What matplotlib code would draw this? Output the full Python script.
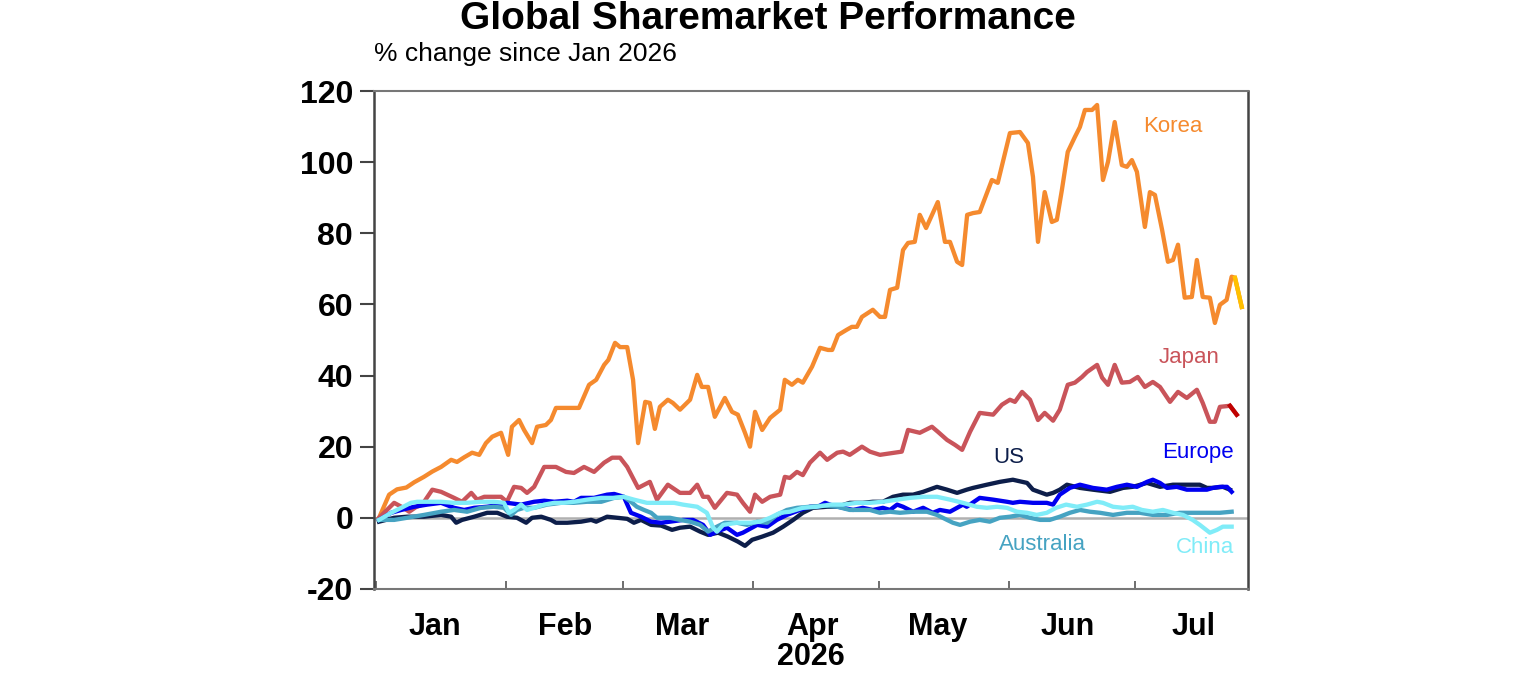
import pandas as pd
import matplotlib.pyplot as plt
import matplotlib.dates as mdates

# ===============================
# Data: % change since Jan 2026
# x = days after 1 Jan 2026
# ===============================
korea_days = [0.7, 3.1, 5.0, 7.2, 9.1, 11.4, 13.4, 15.5, 17.9, 19.3, 21.0, 22.9, 24.6, 26.2, 27.7,
              29.8, 31.5, 32.4, 34.1, 35.3, 37.2, 38.4, 40.5, 41.7, 42.9, 48.4, 50.8, 52.5, 54.4, 55.4,
              57.0, 58.2, 59.9, 61.3, 62.5, 64.2, 65.3, 66.5, 67.7, 69.6, 70.8, 72.5, 74.9, 76.6, 77.7,
              79.2, 80.8, 83.2, 84.9, 86.3, 88.0, 89.2, 90.4, 92.1, 94.0, 96.4, 97.5, 99.2, 100.6, 101.8,
              104.0, 105.9, 107.8, 108.8, 110.2, 112.3, 113.5, 114.7, 115.9, 118.5, 120.2, 121.4, 122.6,
              124.3, 125.7, 126.9, 128.5, 129.7, 131.2, 134.0, 135.7, 136.9, 138.6, 139.8, 141.0, 142.4,
              144.0, 146.9, 148.3, 151.2, 153.6, 155.5, 156.7, 157.9, 159.5, 161.2, 162.4, 163.6, 165.0,
              166.7, 167.9, 169.1, 170.8, 172.0, 173.4, 174.6, 176.2, 177.9, 179.1, 180.3, 181.5, 183.4,
              184.6, 185.8, 187.5, 188.9, 190.1, 191.3, 192.9, 194.6, 195.8, 197.2, 198.9, 200.1, 201.3,
              202.9, 204.1, 204.9, 206.5]
korea_vals = [0, 6.5, 8, 8.5, 10, 11.5, 13, 14.3, 16.3, 15.7, 17, 18.3, 17.7, 21, 22.8,
              23.9, 17.7, 25.6, 27.5, 24.7, 21, 25.6, 26.1, 27.5, 30.9, 30.9, 37.4, 38.8, 43, 44.4,
              49.2, 48, 48, 38.8, 21, 32.6, 32.3, 25, 31.2, 33.2, 32.3, 30.4, 33.2, 40.2, 36.8,
              36.8, 28.4, 33.7, 29.8, 29, 23.9, 20, 29.8, 24.7, 28.1, 30.4, 38.8, 37.4, 38.8, 38,
              42.5, 47.8, 47.2, 47.2, 51.4, 52.9, 53.7, 53.7, 56.5, 58.5, 56.5, 56.5, 64.1,
              64.7, 75.3, 77.3, 77.6, 85.2, 81.5, 88.8, 77.6, 77.6, 72, 71.1, 85.2, 85.7,
              86, 95, 94.2, 108.2, 108.5, 105.4, 95.9, 77.6, 91.6, 83.2, 83.8, 92.2, 102.9,
              107.1, 109.9, 114.7, 114.7, 116.1, 95, 100.1, 111.3, 99.2, 98.7, 100.6, 97.3, 81.8,
              91.6, 90.8, 81, 72, 72.5, 76.8, 61.9, 62.1, 72.5, 62.1, 61.9, 54.8, 59.9,
              61.3, 67.8, 67.5, 59.3]

japan_days = [0.7, 4.3, 6.2, 7.9, 9.5, 11.0, 13.4, 15.5, 18.6, 20.5, 22.7, 24.1, 25.8, 29.8, 31.2,
              32.9, 34.6, 36.0, 37.7, 40.1, 42.9, 45.3, 47.2, 49.6, 52.0, 54.4, 56.3, 58.2, 59.9, 62.5,
              65.3, 67.0, 69.6, 72.5, 74.9, 76.6, 78.0, 79.2, 80.8, 83.7, 86.1, 87.5, 89.2, 90.4, 92.1,
              94.0, 96.4, 97.5, 98.7, 100.4, 101.8, 103.5, 105.9, 107.6, 110.0, 111.4, 113.0, 115.9,
              117.8, 120.2, 125.4, 126.9, 129.7, 132.6, 134.0, 136.2, 138.1, 139.8, 141.7, 144.0, 147.2,
              149.3, 151.2, 152.4, 154.1, 156.0, 157.9, 159.5, 161.5, 163.1, 165.0, 166.7, 168.4, 169.6,
              172.0, 173.2, 174.6, 176.2, 177.9, 179.8, 181.7, 183.4, 185.3, 187.0, 189.4, 191.3, 193.4,
              195.8, 197.2, 198.9, 200.1, 201.3, 203.7, 205.3]
japan_vals = [0, 4.2, 3, 1.7, 3, 3.7, 7.9, 7.3, 5.6, 4.5, 7, 5.1, 5.9, 5.9, 4.5,
              8.7, 8.4, 7, 8.7, 14.3, 14.3, 12.9, 12.6, 14.3, 12.9, 15.5, 16.9, 16.9, 14.3, 8.4,
              10.1, 5.1, 9.3, 7, 7, 9.3, 5.9, 5.9, 2.8, 7, 6.5, 4.2, 1.7, 6.5, 4.5,
              5.9, 6.5, 11.5, 11.2, 12.9, 12, 15.5, 18.3, 16.3, 18.3, 18.6, 17.7, 20,
              18.6, 17.7, 18.6, 24.7, 23.9, 25.6, 24.2, 21.9, 20.5, 19.1, 24.2, 29.5, 29,
              31.8, 33.2, 32.6, 35.4, 33.2, 27.5, 29.5, 27.3, 30.4, 37.4, 38, 39.6, 41,
              43, 39.4, 37.4, 43, 38, 38.2, 39.6, 36.8, 38.2, 36.8, 32.6, 35.4, 33.7,
              36, 32.3, 27, 27, 31.2, 31.5, 29]

us_days = [0.7, 4.3, 7.4, 11.4, 15.5, 17.9, 19.1, 20.5, 23.4, 26.5, 28.9, 31.2, 33.6, 35.8, 37.2,
           39.4, 41.7, 42.9, 45.6, 48.9, 51.3, 52.5, 55.1, 57.5, 59.9, 61.5, 63.2, 65.6, 68.0, 70.6,
           72.5, 74.9, 77.3, 79.2, 81.6, 83.9, 86.3, 88.0, 89.7, 92.1, 94.7, 97.1, 99.5, 101.8, 104.2,
           107.6, 110.0, 113.0, 116.1, 118.5, 120.9, 123.3, 125.7, 128.1, 130.5, 133.8, 136.2, 138.6,
           140.9, 142.4, 145.7, 148.8, 151.9, 155.3, 156.7, 160.0, 161.5, 163.1, 164.8, 167.9, 171.0,
           175.1, 178.2, 180.5, 183.9, 187.0, 190.1, 193.4, 196.5, 198.2, 199.6, 202.0, 203.7]
us_vals = [-1.1, 0, 0.3, 0.3, 0.8, 0.3, -1.4, -0.6, 0.3, 1.4, 1.4, 0.3, 0, -1.4, 0,
           0.3, -0.6, -1.4, -1.4, -1.1, -0.6, -1.1, 0.3, 0, -0.3, -1.4, -0.6, -2, -2.2, -3.4,
           -2.8, -2.5, -3.9, -4.8, -4.2, -5.3, -6.7, -7.9, -6.2, -5.3, -4.2, -2.5, -0.6, 1.4, 2.8,
           3.1, 3.1, 4.2, 4.2, 4.5, 4.5, 5.9, 6.5, 6.5, 7.3, 8.7, 7.9, 7,
           7.9, 8.4, 9.3, 10.1, 10.7, 9.8, 7.9, 6.5, 7, 7.9, 9.3, 8.4, 7.9,
           7.3, 8.4, 8.7, 9.8, 8.7, 9.3, 9.3, 9.3, 8.4, 8.4, 8.7, 7.9]

europe_days = [0.7, 3.6, 6.0, 9.1, 12.2, 15.5, 18.6, 21.0, 23.4, 26.5, 29.8, 31.2, 34.6, 37.7, 40.1,
               42.5, 45.6, 47.2, 48.9, 52.0, 55.1, 56.8, 59.1, 60.8, 63.2, 65.6, 68.0, 70.1, 73.2, 75.6,
               78.0, 79.7, 81.3, 83.7, 86.1, 87.5, 90.9, 93.3, 95.6, 98.0, 101.1, 103.5, 105.4, 107.1,
               109.0, 111.4, 113.8, 116.1, 118.5, 120.9, 122.6, 124.3, 125.7, 128.1, 130.5, 132.8, 134.5,
               136.9, 138.6, 140.0, 140.9, 144.0, 147.2, 150.5, 151.9, 153.6, 156.7, 160.0, 161.5, 163.1,
               165.5, 167.9, 171.0, 174.3, 176.7, 179.1, 181.5, 183.9, 185.3, 187.0, 188.7, 191.0, 193.4,
               195.8, 198.2, 199.6, 201.3, 203.0, 204.1]
europe_vals = [-0.6, 1.4, 2.2, 3.1, 3.7, 4.2, 2.8, 2.2, 2.8, 3.1, 3.7, 4.2, 3.7, 4.5, 4.8,
               4.5, 4.8, 4.5, 5.6, 5.6, 6.5, 6.7, 5.9, 1.4, 0.3, -1.1, -1.4, -1.1, -0.6, -0.6,
               -2, -4.8, -3.9, -2.8, -4.8, -4.2, -2, -2.5, -0.6, 0.8, 2.2, 3.1, 3.1, 4.2,
               3.4, 2.8, 2.2, 2.8, 2.2, 2.8, 2.2, 3.7, 3.1, 1.7, 2.8, 1.4, 2.2,
               1.7, 2.8, 3.7, 3.1, 5.6, 5.1, 4.5, 4.2, 4.5, 4.2, 4.2, 3.7, 6.5,
               8.4, 9.3, 8.4, 7.9, 8.7, 9.3, 8.7, 10.1, 10.7, 9.8, 8.4, 8.7, 7.9,
               7.9, 7.9, 8.4, 8.7, 8.7, 7.3]

australia_days = [0.7, 4.3, 7.4, 11.4, 15.5, 18.6, 21.7, 25.0, 28.1, 30.5, 32.2, 33.6, 35.3, 37.7, 40.8,
                  44.1, 47.2, 50.3, 53.7, 56.8, 59.1, 60.8, 62.2, 63.9, 65.6, 67.0, 70.1, 72.5, 74.9,
                  77.3, 79.2, 80.8, 83.2, 86.1, 88.5, 90.9, 93.3, 95.6, 98.0, 100.4, 103.5, 106.6, 110.0,
                  113.0, 115.4, 117.8, 120.2, 122.6, 125.0, 128.1, 131.4, 133.8, 136.2, 137.6, 139.3,
                  141.7, 144.0, 146.4, 148.8, 151.2, 153.6, 156.0, 158.4, 160.7, 163.1, 165.5, 167.9,
                  170.3, 172.7, 175.8, 179.1, 182.2, 185.3, 188.7, 191.7, 194.8, 198.2, 201.3, 204.1]
australia_vals = [-0.6, -0.6, 0, 0.8, 1.7, 2.2, 1.7, 2.8, 3.1, 2.8, 0.8, 2.2, 2.8, 2.8, 3.7,
                  4.2, 4.2, 4.5, 4.5, 5.6, 5.9, 4.5, 3.1, 2.2, 1.4, 0, 0, -0.6, -1.1,
                  -2, -3.9, -2.8, -1.4, -1.4, -2, -1.1, -1.4, 0.8, 2.2, 2.8, 3.1, 3.4, 3.1,
                  2.2, 2.2, 2.2, 1.4, 1.7, 1.4, 1.7, 1.7, 0.8, -0.6, -1.4, -2,
                  -1.1, -0.6, -1.1, 0, 0.3, 0.8, 0, -0.6, -0.6, 0.3, 1.4, 2.2,
                  1.7, 1.4, 0.8, 1.4, 1.4, 0.8, 0.8, 1.4, 1.4, 1.4, 1.4, 1.7]

china_days = [0.7, 3.6, 6.0, 8.3, 9.8, 12.2, 15.5, 18.6, 21.7, 25.0, 28.1, 30.5, 31.7, 32.9, 34.6,
              36.0, 37.7, 40.1, 42.5, 44.8, 47.2, 50.3, 53.7, 56.8, 59.1, 61.5, 64.6, 68.0, 71.1, 73.2,
              76.6, 78.9, 80.4, 81.3, 82.8, 86.1, 89.2, 91.6, 94.0, 96.4, 98.7, 101.8, 105.2, 108.3,
              111.4, 114.7, 117.8, 120.9, 124.3, 127.4, 130.5, 133.8, 136.9, 140.0, 143.3, 145.7, 148.1,
              150.5, 152.9, 155.3, 157.6, 160.0, 162.2, 164.6, 167.2, 169.6, 172.0, 173.4, 175.8, 178.2,
              180.5, 182.7, 185.3, 187.7, 190.1, 192.5, 194.8, 196.5, 198.9, 200.6, 202.0, 204.1]
china_vals = [-0.6, 1.4, 2.8, 4.2, 4.5, 4.5, 4.5, 4.2, 4.2, 4.5, 4.5, 4.2, 1.4, 2.2, 3.7,
              2.2, 2.8, 3.7, 4.2, 4.2, 4.5, 5.1, 5.6, 5.6, 5.9, 5.1, 4.2, 4.2, 4.2, 3.7,
              3.1, 1.4, -2.8, -3.9, -2, -1.4, -1.4, -1.1, 0, 1.4, 1.7, 2.8, 3.1, 3.7,
              3.7, 4.2, 4.2, 4.5, 5.1, 5.6, 5.9, 5.9, 5.1, 4.2, 3.1, 2.8, 3.1,
              2.8, 1.7, 1.4, 0.8, 1.4, 2.8, 3.7, 3.1, 3.7, 4.5, 4.2, 3.1, 2.8,
              3.1, 2.2, 1.7, 2.2, 1.4, 0.8, -0.6, -2, -4.2, -3.4, -2.5, -2.5]

start = pd.Timestamp("2026-01-01")


def to_dates(days):
    return start + pd.to_timedelta(days, unit="D")


# name, days, values, colour, label position (day, value), latest-point colour
series = [
    ("Korea", korea_days, korea_vals, "#F58A2E", (190, 110), "#FFC000"),
    ("Japan", japan_days, japan_vals, "#C9545A", (194, 45), "#C00000"),
    ("US", us_days, us_vals, "#0D1E4A", (151, 17), None),
    ("Europe", europe_days, europe_vals, "#0000F0", (196, 18.3), None),
    ("Australia", australia_days, australia_vals, "#46A3C2", (159, -7.6), None),
    ("China", china_days, china_vals, "#80ECF8", (197.7, -8.4), None),
]

plt.rcParams["font.family"] = ["Liberation Sans", "DejaVu Sans"]
plt.rcParams["axes.unicode_minus"] = False

fig = plt.figure(figsize=(15.36, 6.8), dpi=100)
ax = fig.add_axes([0.2435, 0.134, 0.569, 0.732])

ax.axhline(0, color="#B0B0B0", lw=1.8, zorder=1)

for name, days, vals, col, (lx, ly), last_col in series:
    x = to_dates(days)
    ax.plot(x, vals, color=col, lw=3.1, solid_joinstyle="round", zorder=2)
    if last_col:
        ax.plot(x[-2:], vals[-2:], color=last_col, lw=3.1, zorder=3)
    ax.text(start + pd.Timedelta(days=lx), ly, name, color=col, fontsize=16,
            ha="center", va="center")

ax.set_ylim(-20, 120)
ax.set_yticks(range(-20, 121, 20))
ax.set_xlim(pd.Timestamp("2025-12-31 12:00"), pd.Timestamp("2026-07-28"))

# month boundaries as ticks, labels centred mid-month
ax.xaxis.set_major_locator(mdates.MonthLocator())
ax.xaxis.set_major_formatter(plt.NullFormatter())
ax.xaxis.set_minor_locator(mdates.MonthLocator(bymonthday=15))
ax.xaxis.set_minor_formatter(mdates.DateFormatter("%b"))
ax.tick_params(axis="x", which="major", direction="in", length=6, width=1.2, color="#555555")
ax.tick_params(axis="x", which="minor", length=0, pad=17, labelsize=22)
for lab in ax.get_xticklabels(minor=True):
    lab.set_fontweight("bold")
ax.tick_params(axis="y", direction="out", length=10, width=1.5, color="#444444",
               labelsize=23, pad=5)
for lab in ax.get_yticklabels():
    lab.set_fontweight("bold")

ax.set_xlabel("2026", fontsize=22, fontweight="bold", labelpad=0)

for side in ["top", "bottom"]:
    ax.spines[side].set_color("#777777")
    ax.spines[side].set_linewidth(1.5)
for side in ["left", "right"]:
    ax.spines[side].set_color("#444444")
    ax.spines[side].set_linewidth(1.8)

fig.text(0.5, 0.972, "Global Sharemarket Performance", ha="center", va="center",
         fontsize=28, fontweight="bold")
fig.text(0.2435, 0.92, "% change since Jan 2026", ha="left", va="center", fontsize=19)

plt.savefig("out.png", dpi=100)
plt.close()
